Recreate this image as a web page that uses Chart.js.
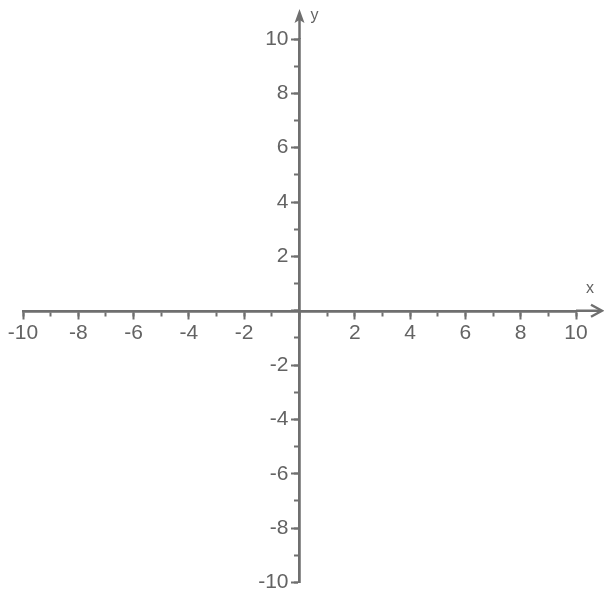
<!DOCTYPE html>
<html>
<head>
<meta charset="utf-8">
<script src="https://cdn.jsdelivr.net/npm/chart.js@4.4.1/dist/chart.umd.min.js"></script>
<style>
  html, body { margin: 0; padding: 0; background: #ffffff; }
  #wrap { width: 604px; height: 593px; }
</style>
</head>
<body>
<div id="wrap"><canvas id="plane"></canvas></div>
<script>
// axis ranges and tick steps
const xRange = [-10, 10]
const yRange = [-10, 10]
const majorStep = 2
const minorStep = 1
const axisNames = ["x", "y"]

const ink = "#6f6f6f"
const labelFont = { family: "'Liberation Sans Narrow', 'Liberation Sans', Arial, sans-serif", size: 21, lineHeight: 1 }

const majorLabel = (v) => (v === 0 ? "" : String(v))
const noLabel = () => ""

function axis(range, step, pos, tickLength, labels, padding) {
  return {
    type: "linear",
    min: range[0],
    max: range[1],
    position: pos,
    grid: {
      display: true,
      drawOnChartArea: false,
      drawTicks: true,
      tickLength: tickLength,
      tickWidth: 2,
      tickColor: ink,
    },
    border: { display: true, color: ink, width: 2.5 },
    ticks: {
      stepSize: step,
      autoSkip: false,
      maxRotation: 0,
      color: "#636363",
      font: labelFont,
      padding: padding,
      callback: labels ? majorLabel : noLabel,
    },
  }
}

// Chart.js puts labels of a y axis given by value right on the axis line,
// so push them left of the tick marks
const yLabelShift = {
  id: "yLabelShift",
  beforeDraw(chart) {
    const scale = chart.scales.y
    const shift = scale.options.grid.tickLength + 4
    scale.getLabelItems().forEach((item) => {
      if (!item._shifted) {
        item.options.translation[0] -= shift
        item._shifted = true
      }
    })
  },
}

const axisArrows = {
  id: "axisArrows",
  afterDraw(chart) {
    const { ctx, scales } = chart
    const ox = scales.x.getPixelForValue(0)
    const oy = scales.y.getPixelForValue(0)
    const xEnd = scales.x.getPixelForValue(xRange[1])
    const yEnd = scales.y.getPixelForValue(yRange[1])
    ctx.save()
    ctx.strokeStyle = ink
    ctx.fillStyle = ink
    ctx.lineWidth = 2.5
    // x axis run-out and open arrow head
    ctx.beginPath()
    ctx.moveTo(xEnd, oy)
    ctx.lineTo(601, oy)
    ctx.stroke()
    ctx.beginPath()
    ctx.moveTo(591, oy - 6)
    ctx.lineTo(602, oy)
    ctx.lineTo(591, oy + 6)
    ctx.stroke()
    // y axis run-out and solid arrow head
    ctx.beginPath()
    ctx.moveTo(ox, yEnd)
    ctx.lineTo(ox, 16)
    ctx.stroke()
    ctx.beginPath()
    ctx.moveTo(ox, 9)
    ctx.lineTo(ox - 5, 23)
    ctx.lineTo(ox, 20)
    ctx.lineTo(ox + 5, 23)
    ctx.closePath()
    ctx.fill()
    // axis names
    ctx.font = "16px 'Liberation Sans', Arial, sans-serif"
    ctx.fillStyle = "#636363"
    ctx.textAlign = "center"
    ctx.textBaseline = "middle"
    ctx.fillText(axisNames[0], 590, 289)
    ctx.fillText(axisNames[1], ox + 15, 16)
    ctx.restore()
  },
}

new Chart(document.getElementById("plane"), {
  type: "scatter",
  data: {
    datasets: [{ data: [] }],
  },
  options: {
    responsive: true,
    maintainAspectRatio: false,
    devicePixelRatio: 1,
    animation: false,
    layout: { padding: { left: 23, right: 28, top: 39, bottom: 10 } },
    plugins: {
      legend: { display: false },
      tooltip: { enabled: false },
    },
    scales: {
      xMinor: axis(xRange, minorStep, { y: 0 }, 4, false, 0),
      yMinor: axis(yRange, minorStep, { x: 0 }, 4, false, 0),
      x: axis(xRange, majorStep, { y: 0 }, 7, true, 5),
      y: axis(yRange, majorStep, { x: 0 }, 7, true, 0),
    },
  },
  plugins: [yLabelShift, axisArrows],
})
</script>
</body>
</html>
